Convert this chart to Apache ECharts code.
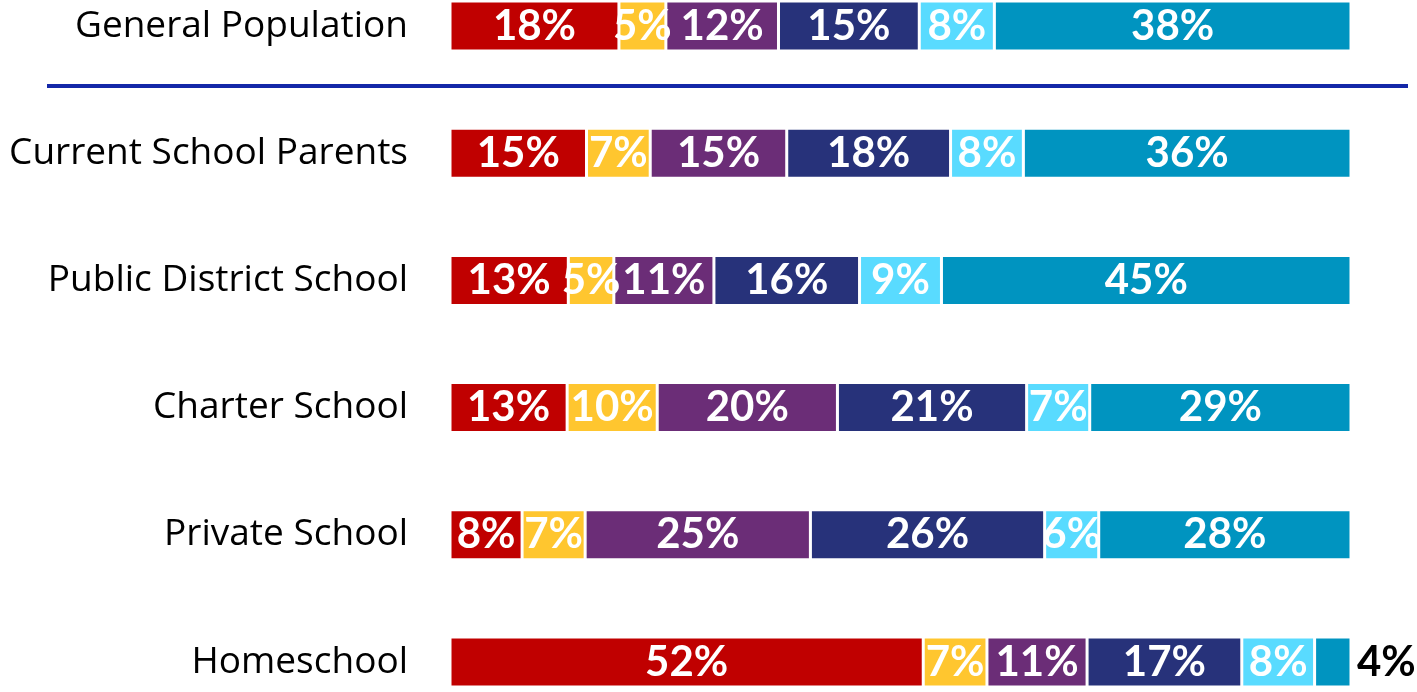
<!DOCTYPE html>
<html>
<head>
<meta charset="utf-8">
<script src="https://cdn.jsdelivr.net/npm/echarts@6/dist/echarts.min.js"></script>
<style>
  html, body { margin: 0; padding: 0; background: #ffffff; }
  #chart { width: 1417px; height: 692px; }
</style>
</head>
<body>
<div id="chart"></div>
<script>
// Groups, top to bottom
const categories = ['General Population', 'Current School Parents', 'Public District School', 'Charter School', 'Private School', 'Homeschool'];

// Share of each response per group (percent, as labelled)
const seg1 = [18, 15, 13, 13, 8, 52];
const seg2 = [5, 7, 5, 10, 7, 7];
const seg3 = [12, 15, 11, 20, 25, 11];
const seg4 = [15, 18, 16, 21, 26, 17];
const seg5 = [8, 8, 9, 7, 6, 8];
const seg6 = [38, 36, 45, 29, 28, 4];

const segments = [seg1, seg2, seg3, seg4, seg5, seg6];
const colors = ['#C00000', '#FFC62F', '#6B2D77', '#27327A', '#59DBFF', '#0094C0'];

// Each row is drawn as a 100% stacked bar
const rowTotals = categories.map((_, i) => segments.reduce((s, arr) => s + arr[i], 0));

const VALUE_FONT = 'Lato, "Open Sans", sans-serif';
const CAT_FONT = '"Open Sans", Lato, sans-serif';

const series = segments.map((arr, si) => ({
  name: 'seg' + (si + 1),
  type: 'bar',
  stack: 'total',
  barWidth: 50,
  clip: false,
  itemStyle: { color: colors[si], borderColor: '#ffffff', borderWidth: 1.5 },
  label: {
    show: true,
    position: 'inside',
    color: '#ffffff',
    fontFamily: VALUE_FONT,
    fontWeight: 'bold',
    fontSize: 42,
    formatter: p => arr[p.dataIndex] + '%'
  },
  data: arr.map((v, i) => {
    const item = { value: v / rowTotals[i] * 100 };
    // Too narrow for an inside label: place it after the bar in black
    if (v / rowTotals[i] < 0.05) {
      item.label = { position: 'right', color: '#000000', distance: 6 };
    }
    return item;
  })
}));

const chart = echarts.init(document.getElementById('chart'), null, { renderer: 'canvas' });
chart.setOption({
  animation: false,
  backgroundColor: '#ffffff',
  grid: { left: 450, right: 66, top: 26, bottom: 30, containLabel: false },
  xAxis: { type: 'value', min: 0, max: 100, show: false },
  yAxis: {
    type: 'category',
    data: categories,
    inverse: true,
    boundaryGap: false,
    axisLine: { show: false },
    axisTick: { show: false },
    splitLine: { show: false },
    axisLabel: { color: '#000000', fontFamily: CAT_FONT, fontSize: 37, margin: 42 }
  },
  series: series,
  graphic: [{
    type: 'line',
    shape: { x1: 47, y1: 86, x2: 1408, y2: 86 },
    style: { stroke: '#1428A8', lineWidth: 4 }
  }]
});
</script>
</body>
</html>
